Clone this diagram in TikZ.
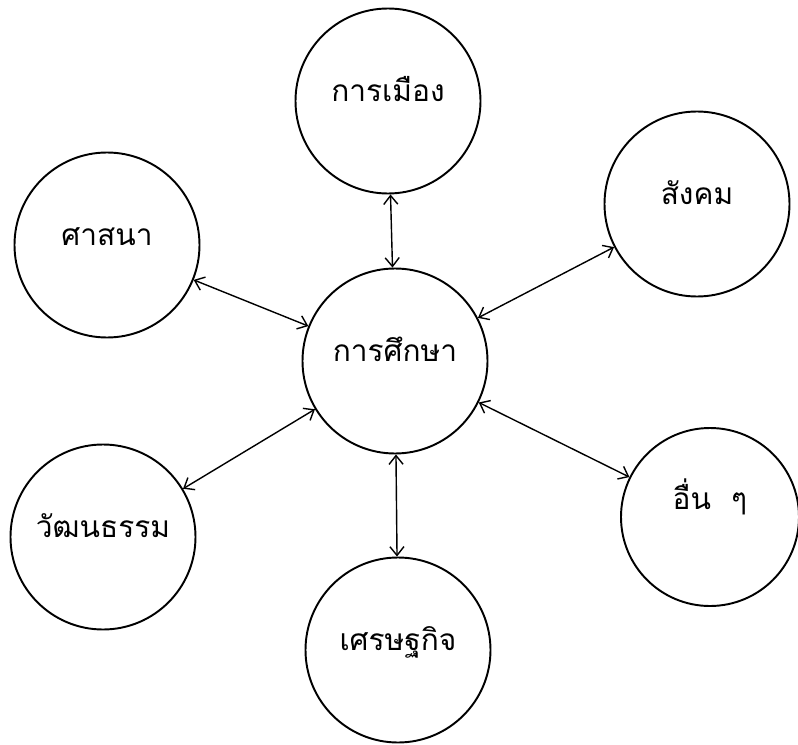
\documentclass[tikz,border=0pt]{standalone}
\usepackage{fontspec}
\newfontfamily\thaifont[Script=Thai]{Loma}
\usetikzlibrary{arrows.meta}
\tikzset{topic/.style={draw,circle,line width=1.1pt,inner sep=0pt,minimum size=3.7cm,text height=.45cm,text depth=.45cm,font=\thaifont\fontsize{17}{20}\selectfont}}
\begin{document}
\begin{tikzpicture}[>={Straight Barb[length=5pt,width=8pt]}]
\useasboundingbox (0,0) rectangle (15.96,14.88);

    \node (edu)[topic] at (7.9,7.66){การศึกษา};
    \node (pol)[topic] at (7.76,12.86){การเมือง};
    \node (soc)[topic] at (13.94,10.8){สังคม};
    \node (rel)[topic] at (2.14,9.98){ศาสนา};
    \node (cul)[topic] at (2.06,4.14){วัฒนธรรม};
    \node (eco)[topic] at (7.96,1.88){เศรษฐกิจ};
    \node (oth)[topic,minimum size=3.56cm,text depth=.75cm] at (14.2,4.54){อื่น ~ๆ};
  \foreach \n in {pol,soc,oth,eco,cul,rel}
{
    \draw[<->,thick](edu)--(\n);
}
\end{tikzpicture}
\end{document}
